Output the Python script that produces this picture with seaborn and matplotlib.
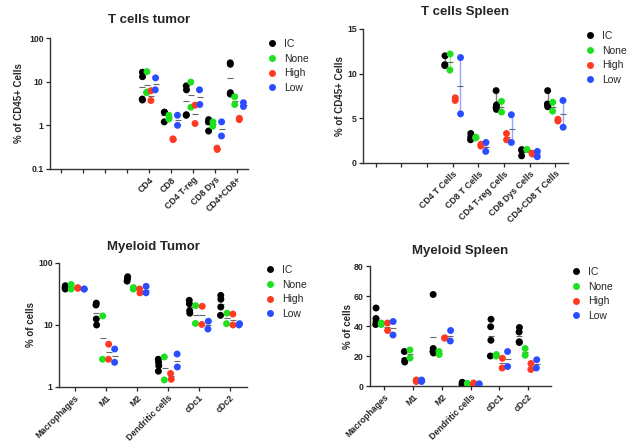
import numpy as np
import pandas as pd
import seaborn as sns
from matplotlib import pyplot as plt
from matplotlib.ticker import FixedLocator, NullLocator

groups = ["IC", "None", "High", "Low"]
palette = {"IC": "#000000", "None": "#1fe01f", "High": "#ff3a22", "Low": "#2a4dff"}

# T cells tumor (log scale), 4 empty slots on the left
tt_cats = ["", " ", "  ", "   ", "CD4", "CD8", "CD4 T-reg", "CD8 Dys", "CD4+CD8+"]
tt_ic = [[16.5, 13, 4.0, 3.8], [2.0, 2.0, 1.2], [8.0, 6.5, 1.75, 1.7], [1.35, 1.2, 0.74], [27, 25, 5.6, 5.2]]
tt_none = [[17, 5.8, 5.6], [1.7, 1.4], [9.8, 2.6], [1.2, 0.95], [4.5, 3.0]]
tt_high = [[6.2, 3.7], [0.49, 0.47], [2.9, 1.1], [0.3, 0.28], [1.45, 1.35]]
tt_low = [[12.2, 6.5], [1.7, 1.0], [6.5, 3.0], [1.2, 0.57], [3.3, 2.7]]

# T cells spleen (linear), 3 empty slots
ts_cats = ["", " ", "  ", "CD4 T Cells", "CD8 T Cells", "CD4 T-reg Cells", "CD8 Dys Cells", "CD4-CD8 T Cells"]
ts_ic = [[12.0, 11.0, 10.9], [3.3, 2.9, 2.6], [8.1, 6.5, 6.2, 6.0], [1.5, 1.4, 0.8], [8.1, 6.6, 6.4, 6.3]]
ts_none = [[12.2, 10.4], [2.9, 2.8], [6.9, 5.7], [1.5, 1.5], [6.8, 5.8]]
ts_high = [[7.3, 7.0], [2.1, 1.9], [3.3, 2.6], [1.1, 1.0], [4.9, 4.7]]
ts_low = [[11.8, 5.5], [2.3, 1.3], [5.4, 2.3], [1.3, 0.7], [7.0, 4.0]]

# Myeloid tumor (log scale)
mt_cats = ["Macrophages", "M1", "M2", "Dendritic cells", "cDc1", "cDc2"]
mt_ic = [[43, 40, 38], [22.5, 21, 12.5, 10], [60, 56, 51], [2.8, 2.5, 2.2, 1.8], [25, 22, 17, 15.5], [30, 26, 19.5, 14.3]]
mt_none = [[45, 38], [14, 2.8], [40, 38], [3.05, 1.3], [20.5, 10.6], [15.5, 10.5]]
mt_high = [[40, 39], [4.9, 2.8], [38, 33], [1.65, 1.33], [20, 10.2], [15, 10]]
mt_low = [[38, 38], [4.1, 2.5], [42, 33], [3.4, 2.1], [11.5, 8.6], [10.5, 10]]

# Myeloid spleen (linear)
ms_cats = ["Macrophages", "M1", "M2", "Dendritic cells", "cDc1", "cDc2"]
ms_ic = [[52, 45, 43, 41], [23, 17, 16], [61, 25, 23, 22], [2.5, 1.5, 0.8], [44.5, 39.5, 30.5, 20], [39, 36, 29.5, 29]]
ms_none = [[42, 41], [24, 18.7], [23, 21], [1.7, 1.5], [21, 20], [25, 20.5]]
ms_high = [[42, 37], [4, 3], [32, 32], [2, 1], [18.5, 12], [15, 11]]
ms_low = [[43, 34], [4, 3], [37, 30], [1.5, 1.0], [23, 13], [17.5, 12]]


def to_df(cats, ic, none, high, low):
    named = [c for c in cats if c.strip()]
    rows = []
    for g, vals in zip(groups, [ic, none, high, low]):
        for cat, vv in zip(named, vals):
            for v in vv:
                rows.append({"cell": cat, "group": g, "value": v})
    return pd.DataFrame(rows)


sns.set_style("ticks")
plt.rcParams["font.family"] = ["Liberation Sans", "DejaVu Sans"]
np.random.seed(3)  # jitter only

fig = plt.figure(figsize=(6.35, 4.44), dpi=100)

panels = [
    ("T cells tumor", tt_cats, (tt_ic, tt_none, tt_high, tt_low), "% of CD45+ Cells", "log",
     [0.0787, 0.6194, 0.3118, 0.2950], (262, 39), False, 11, 4),
    ("T cells Spleen", ts_cats, (ts_ic, ts_none, ts_high, ts_low), "% of CD45+ Cells", "lin15",
     [0.5717, 0.6329, 0.3228, 0.3018], (580, 31), True, 10, 1.5),
    ("Myeloid Tumor", mt_cats, (mt_ic, mt_none, mt_high, mt_low), "% of cells", "log2",
     [0.0929, 0.1284, 0.2961, 0.2793], (260, 265), False, 9, 1.5),
    ("Myeloid Spleen", ms_cats, (ms_ic, ms_none, ms_high, ms_low), "% of cells", "lin80",
     [0.5827, 0.1306, 0.2850, 0.2703], (566, 267), False, 9, 0.5),
]

for title, cats, data, ylab, scale, rect, legpos, rng, pad, lpad in panels:
    ax = fig.add_axes(rect)
    df = to_df(cats, *data)
    if scale.startswith("log"):
        ax.set_yscale("log")

    if rng:
        sns.pointplot(data=df, x="cell", y="value", hue="group", order=cats, hue_order=groups,
                      palette=palette, dodge=0.6, linestyle="none", marker="",
                      errorbar=("pi", 100), err_kws={"linewidth": 1.0, "alpha": 0.5},
                      legend=False, ax=ax)
    sns.pointplot(data=df, x="cell", y="value", hue="group", order=cats, hue_order=groups,
                  palette={g: "#666666" for g in groups}, dodge=0.6, linestyle="none",
                  marker="_", markersize=4, markeredgewidth=0.8, errorbar=None,
                  legend=False, ax=ax)
    sns.stripplot(data=df, x="cell", y="value", hue="group", order=cats, hue_order=groups,
                  palette=palette, dodge=True, jitter=0.05, size=5, ax=ax)

    sns.move_legend(ax, "upper left", bbox_to_anchor=(legpos[0] / 635, 1 - legpos[1] / 444),
                    bbox_transform=fig.transFigure, frameon=False, title=None, fontsize=7.5,
                    handletextpad=0.1, labelspacing=0.45, borderaxespad=0, borderpad=0,
                    markerscale=1.0)

    if scale == "log":
        ax.set_ylim(0.1, 100)
        ax.yaxis.set_major_locator(FixedLocator([0.1, 1, 10, 100]))
        ax.set_yticklabels(["0.1", "1", "10", "100"])
        ax.yaxis.set_minor_locator(NullLocator())
    elif scale == "log2":
        ax.set_ylim(1, 100)
        ax.yaxis.set_major_locator(FixedLocator([1, 10, 100]))
        ax.set_yticklabels(["1", "10", "100"])
        ax.yaxis.set_minor_locator(NullLocator())
    elif scale == "lin15":
        ax.set_ylim(0, 15)
        ax.set_yticks([0, 5, 10, 15])
    else:
        ax.set_ylim(0, 80)
        ax.set_yticks([0, 20, 40, 60, 80])

    n = len(cats)
    if title == "Myeloid Spleen":
        ax.set_xlim(-0.5, n - 0.2)
    elif title == "Myeloid Tumor":
        ax.set_xlim(-0.5, n - 0.45)
    else:
        ax.set_xlim(-0.5, n - 0.5)

    ax.set_title(title, fontsize=9.5, fontweight="bold", pad=pad)
    ax.set_xlabel("")
    ax.set_ylabel(ylab, fontsize=7, fontweight="bold", labelpad=lpad)
    ax.tick_params(axis="both", labelsize=6.3, length=3, width=0.9, pad=1.5)
    for lab in ax.get_xticklabels():
        lab.set_rotation(45)
        lab.set_ha("right")
        lab.set_rotation_mode("anchor")
        lab.set_fontweight("bold")
    for lab in ax.get_yticklabels():
        lab.set_fontweight("bold")
    sns.despine(ax=ax)
    for s in ["left", "bottom"]:
        ax.spines[s].set_linewidth(1.0)
        ax.spines[s].set_color("#333333")

fig.savefig("out.png", dpi=100)
